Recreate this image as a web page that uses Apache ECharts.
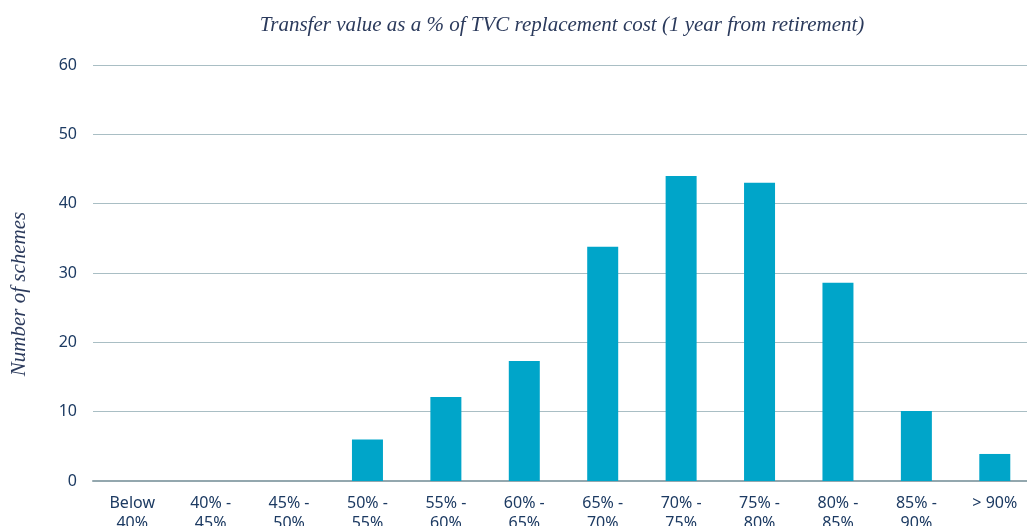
<!DOCTYPE html>
<html>
<head>
<meta charset="utf-8">
<script src="https://cdn.jsdelivr.net/npm/echarts@6/dist/echarts.min.js"></script>
<style>html,body{margin:0;padding:0;background:#fff}#c{width:1027px;height:526px}</style>
</head>
<body>
<div id="c"></div>
<script>
const categories = ['Below\n40%', '40% -\n45%', '45% -\n50%', '50% -\n55%', '55% -\n60%', '60% -\n65%', '65% -\n70%', '70% -\n75%', '75% -\n80%', '80% -\n85%', '85% -\n90%', '> 90%'];
const schemes = [0, 0, 0, 6, 12.1, 17.3, 33.8, 44, 43, 28.6, 10.1, 3.9];
const yTicks = { min: 0, max: 60, interval: 10 };
const titleText = 'Transfer value as a % of TVC replacement cost (1 year from retirement)';
const yName = 'Number of schemes';

const chart = echarts.init(document.getElementById('c'), null, { renderer: 'canvas' });
chart.setOption({
  animation: false,
  backgroundColor: '#ffffff',
  title: {
    text: titleText,
    left: 557, top: 10, textAlign: 'center',
    textStyle: { fontFamily: 'Liberation Serif', fontStyle: 'italic', fontWeight: 'normal', fontSize: 21, color: '#2b3a5c' }
  },
  graphic: [{
    type: 'text', x: 19, y: 294, rotation: Math.PI / 2,
    style: {
      text: yName, align: 'center', verticalAlign: 'middle',
      font: 'italic 21px "Liberation Serif"', fill: '#2b3a5c'
    }
  }],
  grid: { left: 93, right: -7, top: 65, bottom: 45, containLabel: false, outerBoundsMode: 'none' },
  xAxis: {
    type: 'category', data: categories,
    axisLine: { show: true, lineStyle: { color: '#93a7ae', width: 2 } },
    axisTick: { show: false },
    axisLabel: { color: '#1c3a62', fontFamily: 'Noto Sans', fontSize: 16, lineHeight: 20, margin: 12, interval: 0 }
  },
  yAxis: {
    type: 'value', min: yTicks.min, max: yTicks.max, interval: yTicks.interval,
    axisLine: { show: false }, axisTick: { show: false },
    axisLabel: { color: '#1c3a62', fontFamily: 'Noto Sans', fontSize: 16, margin: 16 },
    splitLine: { lineStyle: { color: '#a9bec4', width: 1.2 } }
  },
  series: [{
    type: 'bar', data: schemes, barWidth: 31,
    itemStyle: { color: '#00a5c9' }
  }]
});
</script>
</body>
</html>
